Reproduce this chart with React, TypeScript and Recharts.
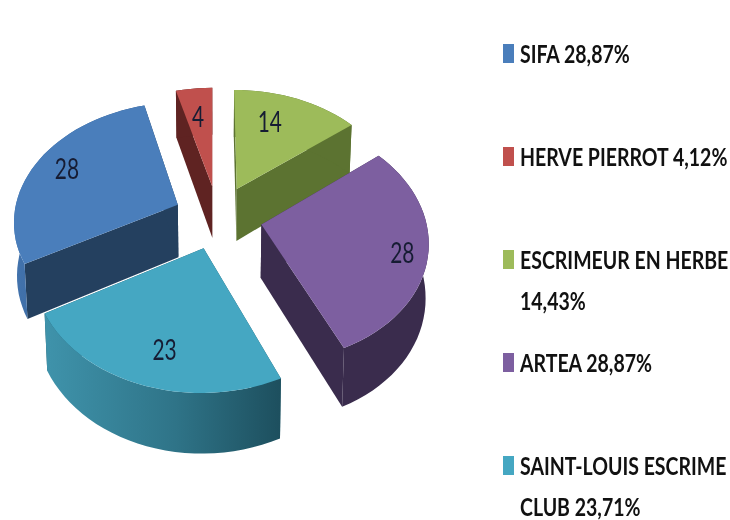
import { Legend, Pie, PieChart } from "recharts";

const clubs = ["SIFA", "HERVE PIERROT", "ESCRIMEUR EN HERBE", "ARTEA", "SAINT-LOUIS ESCRIME CLUB"];
const members = [28, 4, 14, 28, 23];
const shares = ["28,87%", "4,12%", "14,43%", "28,87%", "23,71%"];

const topColors = ["#4a7ebb", "#c0504d", "#9dbb5a", "#7d5fa0", "#45a7c2"];
const sideColors = ["#24405f", "#5f2322", "#5c7331", "#3a2c4d", "#1f5868"];
const rimColors = ["url(#rimBlue)", "#5f2322", "#5c7331", "#3a2c4d", "url(#rimTeal)"];

const rows = clubs.map((club, i) => ({
  club,
  members: members[i],
  share: shares[i],
  fill: topColors[i],
  side: sideColors[i],
  rim: rimColors[i],
}));

// Fake 3D: the pie plane is tilted and seen in perspective
const SQUASH = 0.72;
const PERSPECTIVE = 0.125;
const EXPLODE = 0.27;
const DEPTH = 53;

// hand tweak of the value labels, they don't sit on one radius in the original
const labelShift = [
  [-3, -3],
  [0, 7],
  [-14, 3],
  [15, 6],
  [7, 1],
];

type Pt = { x: number; y: number };

function project(cx: number, cy: number, r: number, u: number, v: number): Pt {
  const s = 1 / (1 - PERSPECTIVE * v);
  return { x: cx + r * u * s, y: cy + r * SQUASH * v * s };
}

function drop(cx: number, p: Pt, v: number): Pt {
  return { x: cx + (p.x - cx) * 0.985, y: p.y + DEPTH / (1 - 0.1 * v) };
}

function toPath(points: Pt[]) {
  return "M" + points.map((p) => `${p.x.toFixed(1)},${p.y.toFixed(1)}`).join("L") + "Z";
}

function Slice3D(props: any) {
  const { cx, cy, outerRadius, startAngle, endAngle, fill, payload } = props;
  const rad = Math.PI / 180;
  const mid = ((startAngle + endAngle) / 2) * rad;
  const ox = Math.cos(mid) * EXPLODE;
  const oy = -Math.sin(mid) * EXPLODE;

  const world: { u: number; v: number }[] = [];
  const steps = Math.max(4, Math.ceil(Math.abs(endAngle - startAngle) / 3));
  for (let i = 0; i <= steps; i++) {
    const a = (startAngle + ((endAngle - startAngle) * i) / steps) * rad;
    world.push({ u: ox + Math.cos(a), v: oy - Math.sin(a) });
  }
  const apex = project(cx, cy, outerRadius, ox, oy);
  const apexLow = drop(cx, apex, oy);
  const arc = world.map((w) => project(cx, cy, outerRadius, w.u, w.v));
  const arcLow = arc.map((p, i) => drop(cx, p, world[i].v));
  const last = arc.length - 1;

  return (
    <g>
      <path d={toPath([apex, arc[0], arcLow[0], apexLow])} fill={payload.side} />
      <path d={toPath([apex, arc[last], arcLow[last], apexLow])} fill={payload.side} />
      <path d={toPath([...arc, ...[...arcLow].reverse()])} fill={payload.rim} />
      <path d={toPath([apex, ...arc])} fill={fill} />
    </g>
  );
}

function sliceLabel(props: any) {
  const { cx, cy, outerRadius, midAngle, value, index } = props;
  const a = (midAngle * Math.PI) / 180;
  const p = project(cx, cy, outerRadius, Math.cos(a) * 1.03, -Math.sin(a) * 1.03);
  const [dx, dy] = labelShift[index];
  return (
    <text
      transform={`translate(${p.x + dx},${p.y + dy + 10}) scale(0.72,1)`}
      textAnchor="middle"
      fontFamily="Lato"
      fontSize={29}
      fill="#161c33"
    >
      {value}
    </text>
  );
}

function ClubLegend({ payload }: any) {
  return (
    <div style={{ fontFamily: "Lato", fontWeight: 700, color: "#111" }}>
      {(payload ?? []).map((entry: any) => (
        <div key={entry.value} style={{ position: "relative", height: 103 }}>
          <span
            style={{
              position: "absolute",
              left: 0,
              top: 11,
              width: 11,
              height: 19,
              background: entry.color,
            }}
          />
          <div
            style={{
              position: "absolute",
              left: 17,
              top: 0,
              width: 270,
              fontSize: 25,
              lineHeight: "41px",
              transform: "scaleX(0.78)",
              transformOrigin: "left top",
            }}
          >
            {`${entry.value} ${entry.payload.share}`}
          </div>
        </div>
      ))}
    </div>
  );
}

export default function App() {
  return (
    <div style={{ position: "absolute", left: 0, top: 0, width: 730, height: 520, filter: "blur(0.5px)" }}>
      <PieChart width={730} height={520} margin={{ top: 0, right: 0, bottom: 0, left: 0 }}>
        <defs>
          <linearGradient id="rimTeal" x1="0" y1="0" x2="1" y2="0">
            <stop offset="0%" stopColor="#3f93ab" />
            <stop offset="55%" stopColor="#2f7488" />
            <stop offset="100%" stopColor="#1d4f5e" />
          </linearGradient>
          <linearGradient id="rimBlue" x1="0" y1="0" x2="1" y2="0">
            <stop offset="0%" stopColor="#4273ad" />
            <stop offset="100%" stopColor="#2d5486" />
          </linearGradient>
        </defs>
        <Pie
          data={rows}
          dataKey="members"
          nameKey="club"
          cx={218}
          cy={217}
          innerRadius={0}
          outerRadius={164}
          startAngle={-151}
          endAngle={-511}
          stroke="none"
          shape={Slice3D}
          label={sliceLabel}
          labelLine={false}
          isAnimationActive={false}
        />
        <Legend
          layout="vertical"
          align="right"
          verticalAlign="top"
          width={227}
          itemSorter={null}
          content={<ClubLegend />}
          wrapperStyle={{ left: 503, top: 33, right: "auto" }}
        />
      </PieChart>
    </div>
  );
}
